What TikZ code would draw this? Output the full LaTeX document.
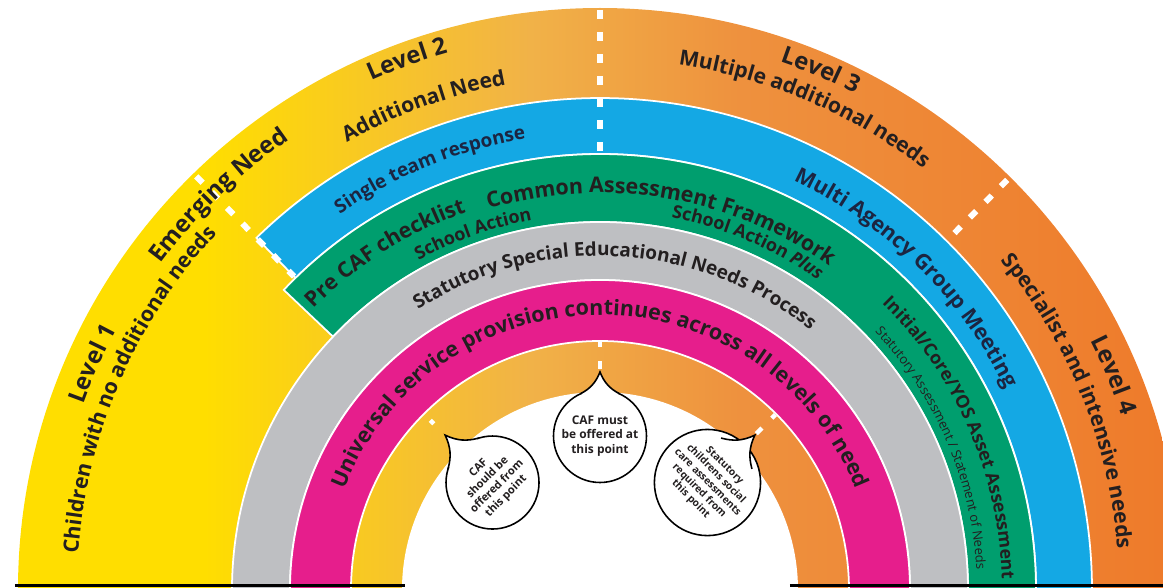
\documentclass[tikz,border=0pt]{standalone}
\usepackage{fontspec}
\setmainfont{Open Sans}
\usetikzlibrary{decorations.text}

\definecolor{lvyellow}{RGB}{255,222,0}
\definecolor{lvamber}{RGB}{241,178,72}
\definecolor{lvpeach}{RGB}{238,145,62}
\definecolor{lvorange}{RGB}{238,122,42}
\definecolor{teamblue}{RGB}{20,168,228}
\definecolor{cafgreen}{RGB}{0,158,110}
\definecolor{sengrey}{RGB}{190,191,194}
\definecolor{univpink}{RGB}{230,30,140}
\definecolor{inkdark}{RGB}{35,31,32}
\definecolor{inknavy}{RGB}{28,37,65}

\pgfdeclarehorizontalshading{levelshade}{100bp}{color(0bp)=(lvyellow); color(33bp)=(lvyellow); color(47bp)=(lvamber); color(56bp)=(lvpeach); color(75bp)=(lvorange); color(100bp)=(lvorange)}

\newcommand{\lvtitle}{\bfseries\fontsize{13.5}{15}\selectfont}
\newcommand{\lvsub}{\bfseries\fontsize{12}{14}\selectfont}
\newcommand{\bandbig}{\bfseries\fontsize{12.2}{14}\selectfont}
\newcommand{\bandmid}{\bfseries\fontsize{10.8}{12}\selectfont}
\newcommand{\bandsmall}{\bfseries\fontsize{10.2}{12}\selectfont}
\newcommand{\bandtiny}{\fontsize{7.4}{8}\selectfont}

% text along a clockwise arc: [colour]{centre angle}{baseline radius}{text}
\newcommand{\arclabel}[4][inkdark]{%
  \path[decoration={text along path, text align=center, text color=#1, text={#4}}, decorate]
    ({#2+80}:#3) arc[start angle={#2+80}, end angle={#2-80}, radius=#3];}

\begin{document}
\begin{tikzpicture}[
    band/.style={draw=white, line width=1pt},
    levelsplit/.style={draw=white, line width=0.12cm, dash pattern=on 0.18cm off 0.26cm},
    pointsplit/.style={draw=white, line width=0.09cm, dash pattern=on 0.1cm off 0.28cm on 0.16cm off 1cm},
    bubble/.style={circle, draw=black, line width=0.9pt, fill=white, minimum size=1.86cm, inner sep=0pt,
      align=center, text=inkdark},
    spike/.style={draw=black, line width=0.9pt}
  ]
  \useasboundingbox (-12,0.06) rectangle (11.26,11.8);
  \clip (-12,0.06) rectangle (11.26,11.8);

  % levels of need
  \shade[shading=levelshade] (-11.64,0) arc[start angle=180, end angle=0, radius=11.64] -- cycle;

  % bands
  \filldraw[band, fill=teamblue] (134.3:9.84) arc[start angle=134.3, end angle=0, radius=9.84]
    -- (8.72,0) arc[start angle=0, end angle=134.3, radius=8.72] -- cycle;
  \filldraw[band, fill=cafgreen] (136.5:8.72) arc[start angle=136.5, end angle=0, radius=8.72]
    -- (7.36,0) arc[start angle=0, end angle=136.5, radius=7.36] -- cycle;
  \filldraw[band, fill=sengrey] (-7.36,0) arc[start angle=180, end angle=0, radius=7.36]
    -- (6.2,0) arc[start angle=0, end angle=180, radius=6.2] -- cycle;
  \filldraw[band, fill=univpink] (-6.2,0) arc[start angle=180, end angle=0, radius=6.2]
    -- (4.98,0) arc[start angle=0, end angle=180, radius=4.98] -- cycle;
  \fill[white] (-3.96,0) arc[start angle=180, end angle=0, radius=3.96] -- cycle;

  % base line
  \draw[line width=0.06cm] (-11.7,0.09) -- (-3.9,0.09);
  \draw[line width=0.06cm] (3.8,0.09) -- (11.7,0.09);

  % level boundaries
  \draw[levelsplit] (134.3:11.56) -- (134.3:8.76);
  \draw[levelsplit] (90:11.6) -- (90:8.72);
  \draw[levelsplit] (45.2:11.56) -- (45.2:10.0);
  \draw[pointsplit] (135:4.8) -- (135:4.6);
  \draw[pointsplit] (90:4.96) -- (90:4.4);
  \draw[pointsplit] (45:4.96) -- (45:4.4);

  % level labels
  \arclabel{156}{10.98}{|\lvtitle|Level 1}
  \arclabel{156.5}{10.46}{|\lvsub|Children with no additional needs}
  \arclabel{134}{10.94}{|\lvtitle|Emerging Need}
  \arclabel{110}{11.16}{|\lvtitle|Level 2}
  \arclabel{110}{10.28}{|\lvsub|Additional Need}
  \arclabel{67}{11.16}{|\lvtitle|Level 3}
  \arclabel{67}{10.62}{|\lvsub|Multiple additional needs}
  \arclabel{22.7}{11.0}{|\lvtitle|Level 4}
  \arclabel{22}{10.38}{|\lvsub|Specialist and intensive needs}

  % band labels
  \arclabel[inknavy]{112}{9.14}{|\bandmid|Single team response}
  \arclabel[inknavy]{45.5}{9.06}{|\bandbig|Multi Agency Group Meeting}
  \arclabel{122.5}{8.02}{|\bandbig|Pre CAF checklist}
  \arclabel{80.5}{7.94}{|\bandbig|Common Assessment Framework}
  \arclabel{109.6}{7.52}{|\bandsmall|School Action}
  \arclabel{67}{7.58}{|\bandsmall|School Action |\bandsmall\itshape|Plus}
  \arclabel{23.5}{8.04}{|\bandsmall|Initial/Core/YOS Asset Assessment}
  \arclabel{23.2}{7.54}{|\bandtiny|Statutory Assessment / Statement of Needs}
  \arclabel{87}{6.68}{|\bandmid|Statutory Special Educational Needs Process}
  \arclabel{90}{5.5}{|\bandbig|Universal service provision continues across all levels of need}

  % speech bubbles
  \coordinate (tipL) at (135:4.38);
  \coordinate (tipM) at (90:4.36);
  \coordinate (tipR) at (45:4.38);
  \node[bubble, rotate=45, font=\bfseries\fontsize{6.3}{7.4}\selectfont] (cafshould) at (135:3.04)
    {CAF\\should be\\offered from\\this point};
  \node[bubble, font=\bfseries\fontsize{6.8}{8.2}\selectfont] (cafmust) at (90:3.08)
    {CAF must\\be offered at\\this point};
  \node[bubble, rotate=-45, font=\bfseries\fontsize{5.8}{6.8}\selectfont] (socialcare) at (45:3.04)
    {Statutory\\childrens social\\care assessments\\required from\\this point};

  \path[fill=white] ([shift={(163:0.93)}]cafshould.center) to[bend right=20] (tipL)
    to[bend right=20] ([shift={(107:0.93)}]cafshould.center) -- cycle;
  \draw[spike] ([shift={(163:0.93)}]cafshould.center) to[bend right=20] (tipL)
    to[bend right=20] ([shift={(107:0.93)}]cafshould.center);
  \path[fill=white] ([shift={(115:0.93)}]cafmust.center) to[bend right=20] (tipM)
    to[bend right=20] ([shift={(65:0.93)}]cafmust.center) -- cycle;
  \draw[spike] ([shift={(115:0.93)}]cafmust.center) to[bend right=20] (tipM)
    to[bend right=20] ([shift={(65:0.93)}]cafmust.center);
  \path[fill=white] ([shift={(73:0.93)}]socialcare.center) to[bend right=20] (tipR)
    to[bend right=20] ([shift={(17:0.93)}]socialcare.center) -- cycle;
  \draw[spike] ([shift={(73:0.93)}]socialcare.center) to[bend right=20] (tipR)
    to[bend right=20] ([shift={(17:0.93)}]socialcare.center);
\end{tikzpicture}
\end{document}
